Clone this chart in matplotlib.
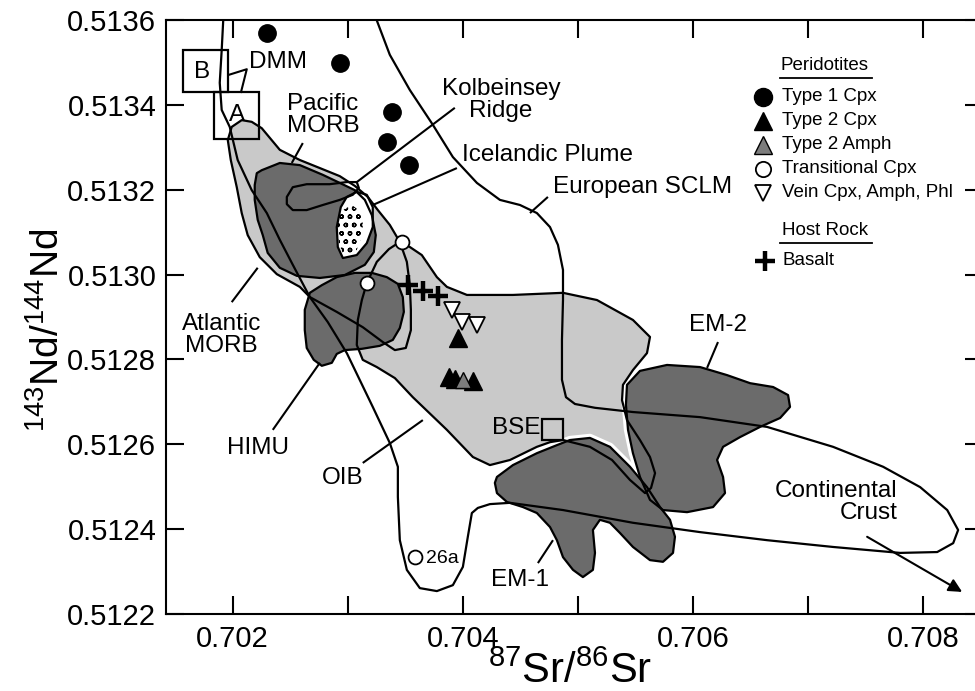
import matplotlib
matplotlib.use("Agg")
import matplotlib.pyplot as plt
from matplotlib.patches import Polygon, Rectangle
from matplotlib.ticker import MultipleLocator, FormatStrFormatter
from matplotlib import font_manager

# ---------------- field outlines (87Sr/86Sr, 143Nd/144Nd) ----------------
# European SCLM envelope (runs off the top of the plot)
sclm_sr = [0.703217, 0.703365, 0.703539, 0.703739, 0.703913, 0.704122, 0.704322, 0.704496,
           0.704643, 0.704757, 0.704826, 0.704870, 0.704870, 0.704861, 0.704861, 0.704896,
           0.704974, 0.705148, 0.705478, 0.706061, 0.706643, 0.707217, 0.707652, 0.707974,
           0.708209, 0.708304, 0.708261, 0.708122, 0.707800, 0.707217, 0.706643, 0.706061,
           0.705478, 0.704870, 0.704409, 0.704235, 0.704130, 0.704078, 0.704043, 0.704000,
           0.703913, 0.703774, 0.703626, 0.703513, 0.703452, 0.703435, 0.703435, 0.703365,
           0.703217, 0.702991, 0.702826, 0.702670, 0.702522, 0.702409, 0.702296, 0.702165,
           0.702043, 0.701974, 0.701904, 0.701887, 0.701904, 0.701922]
sclm_nd = [0.513624, 0.513518, 0.513435, 0.513353, 0.513277, 0.513216, 0.513176, 0.513164,
           0.513145, 0.513112, 0.513070, 0.513011, 0.512940, 0.512846, 0.512752, 0.512711,
           0.512695, 0.512686, 0.512676, 0.512664, 0.512641, 0.512594, 0.512547, 0.512499,
           0.512445, 0.512398, 0.512367, 0.512346, 0.512344, 0.512358, 0.512374, 0.512393,
           0.512415, 0.512445, 0.512462, 0.512459, 0.512450, 0.512438, 0.512382, 0.512311,
           0.512268, 0.512254, 0.512261, 0.512304, 0.512374, 0.512476, 0.512547, 0.512603,
           0.512688, 0.512815, 0.512888, 0.512947, 0.513023, 0.513082, 0.513145, 0.513199,
           0.513270, 0.513348, 0.513388, 0.513452, 0.513529, 0.513624]

atlantic_sr = [0.702078, 0.702165, 0.702252, 0.702409, 0.702583, 0.702757, 0.702930, 0.703061,
               0.703174, 0.703261, 0.703365, 0.703452, 0.703513, 0.703539, 0.703548, 0.703548,
               0.703504, 0.703409, 0.703304, 0.703130, 0.702904, 0.702670, 0.702583, 0.702383,
               0.702235, 0.702130, 0.702078, 0.702035, 0.701983, 0.701957, 0.701991]
atlantic_nd = [0.513364, 0.513360, 0.513345, 0.513294, 0.513270, 0.513251, 0.513232, 0.513209,
               0.513183, 0.513152, 0.513117, 0.513077, 0.513030, 0.512975, 0.512917, 0.512869,
               0.512827, 0.512822, 0.512841, 0.512876, 0.512912, 0.512947, 0.512971, 0.513001,
               0.513041, 0.513093, 0.513145, 0.513206, 0.513270, 0.513317, 0.513348]

oib_sr = [0.703452, 0.703539, 0.703643, 0.703774, 0.703861, 0.704035, 0.704435, 0.704870,
          0.705165, 0.705478, 0.705626, 0.705600, 0.705478, 0.705391, 0.705383, 0.705426,
          0.705539, 0.705626, 0.705670, 0.705635, 0.705583, 0.705452, 0.705296, 0.705104,
          0.704870, 0.704757, 0.704643, 0.704409, 0.704235, 0.704087, 0.703861, 0.703565,
          0.703409, 0.703252, 0.703130, 0.703078, 0.703087, 0.703122, 0.703165, 0.703252,
          0.703357]
oib_nd = [0.513077, 0.513065, 0.513046, 0.512994, 0.512971, 0.512952, 0.512952, 0.512957,
          0.512940, 0.512893, 0.512853, 0.512815, 0.512775, 0.512740, 0.512704, 0.512657,
          0.512610, 0.512570, 0.512532, 0.512497, 0.512485, 0.512516, 0.512563, 0.512594,
          0.512610, 0.512605, 0.512594, 0.512563, 0.512551, 0.512570, 0.512634, 0.512711,
          0.512756, 0.512782, 0.512799, 0.512834, 0.512893, 0.512940, 0.512980, 0.513030,
          0.513060]

pacific_sr = [0.702209, 0.702252, 0.702409, 0.702583, 0.702783, 0.702930, 0.703061, 0.703148,
              0.703209, 0.703243, 0.703226, 0.703148, 0.702974, 0.702757, 0.702557, 0.702409,
              0.702304, 0.702261, 0.702217, 0.702191, 0.702191]
pacific_nd = [0.513239, 0.513246, 0.513263, 0.513258, 0.513235, 0.513216, 0.513199, 0.513176,
              0.513140, 0.513093, 0.513053, 0.513023, 0.512999, 0.512992, 0.512997, 0.513016,
              0.513051, 0.513093, 0.513129, 0.513176, 0.513211]

kolbeinsey_sr = [0.702470, 0.702522, 0.702643, 0.702843, 0.702991, 0.703078, 0.703096,
                 0.703043, 0.702930, 0.702783, 0.702643, 0.702522, 0.702470]
kolbeinsey_nd = [0.513183, 0.513206, 0.513213, 0.513213, 0.513218, 0.513218, 0.513204,
                 0.513188, 0.513176, 0.513164, 0.513152, 0.513152, 0.513166]

iceland_sr = [0.702991, 0.703078, 0.703165, 0.703217, 0.703217, 0.703165, 0.703078,
              0.702957, 0.702913, 0.702904, 0.702939]
iceland_nd = [0.513183, 0.513195, 0.513188, 0.513159, 0.513112, 0.513074, 0.513046,
              0.513039, 0.513065, 0.513112, 0.513159]
iceland_core_sr = [0.702922, 0.703035, 0.703130, 0.703130, 0.703078, 0.702965, 0.702922, 0.702913]
iceland_core_nd = [0.513147, 0.513164, 0.513145, 0.513098, 0.513058, 0.513044, 0.513074, 0.513114]

himu_sr = [0.702670, 0.702774, 0.702904, 0.703061, 0.703209, 0.703339, 0.703435, 0.703478,
           0.703487, 0.703452, 0.703391, 0.703278, 0.703122, 0.702974, 0.702904, 0.702861,
           0.702774, 0.702704, 0.702643, 0.702626, 0.702626]
himu_nd = [0.512957, 0.512975, 0.512994, 0.513004, 0.513004, 0.512994, 0.512978, 0.512947,
           0.512912, 0.512874, 0.512846, 0.512832, 0.512825, 0.512822, 0.512813, 0.512792,
           0.512785, 0.512799, 0.512827, 0.512869, 0.512917]

em1_sr = [0.704296, 0.704435, 0.704643, 0.704817, 0.704930, 0.705104, 0.705278, 0.705452,
          0.705600, 0.705713, 0.705800, 0.705843, 0.705826, 0.705739, 0.705626, 0.705478,
          0.705365, 0.705278, 0.705191, 0.705130, 0.705148, 0.705130, 0.705043, 0.704957,
          0.704870, 0.704817, 0.704757, 0.704643, 0.704522, 0.704383, 0.704296, 0.704278]
em1_nd = [0.512523, 0.512551, 0.512579, 0.512598, 0.512610, 0.512615, 0.512594, 0.512547,
          0.512499, 0.512452, 0.512422, 0.512382, 0.512344, 0.512323, 0.512327, 0.512358,
          0.512391, 0.512415, 0.512422, 0.512398, 0.512344, 0.512304, 0.512287, 0.512304,
          0.512334, 0.512374, 0.512405, 0.512438, 0.512452, 0.512464, 0.512485, 0.512509]

em2_sr = [0.705426, 0.705539, 0.705774, 0.706061, 0.706296, 0.706496, 0.706696, 0.706826,
          0.706843, 0.706757, 0.706583, 0.706409, 0.706261, 0.706209, 0.706261, 0.706278,
          0.706174, 0.705948, 0.705739, 0.705626, 0.705539, 0.705478, 0.705435, 0.705417]
em2_nd = [0.512740, 0.512773, 0.512787, 0.512782, 0.512763, 0.512744, 0.512735, 0.512716,
          0.512688, 0.512662, 0.512641, 0.512617, 0.512594, 0.512563, 0.512523, 0.512485,
          0.512452, 0.512440, 0.512445, 0.512469, 0.512523, 0.512579, 0.512634, 0.512693]

# ---------------- samples ----------------
type1_cpx_sr = [0.702296, 0.702930, 0.703383, 0.703339, 0.703530]
type1_cpx_nd = [0.513569, 0.513499, 0.513383, 0.513312, 0.513258]
type2_cpx_sr = [0.703957, 0.703878, 0.703930, 0.704087]
type2_cpx_nd = [0.512851, 0.512759, 0.512754, 0.512749]
type2_amph_sr = [0.704000]
type2_amph_nd = [0.512752]
trans_cpx_sr = [0.703470, 0.703165, 0.703583]
trans_cpx_nd = [0.513077, 0.512980, 0.512334]
vein_sr = [0.703904, 0.703991, 0.704122]
vein_nd = [0.512917, 0.512888, 0.512881]
basalt_sr = [0.703522, 0.703652, 0.703783]
basalt_nd = [0.512975, 0.512961, 0.512950]

# mantle end-member boxes: (sr_min, sr_max, nd_min, nd_max)
dmm_b = (0.70157, 0.70196, 0.51343, 0.51353)
dmm_a = (0.70184, 0.70223, 0.51332, 0.51343)
bse = (0.70469, 0.70487, 0.51261, 0.51266)

LIGHT = "#c9c9c9"
DARK = "#6b6b6b"

names = {f.name for f in font_manager.fontManager.ttflist}
narrow = "Liberation Sans Narrow" if "Liberation Sans Narrow" in names else "Liberation Sans"

plt.rcParams["font.family"] = ["Liberation Sans", "DejaVu Sans"]
plt.rcParams["mathtext.fontset"] = "custom"
plt.rcParams["mathtext.rm"] = narrow
plt.rcParams["mathtext.it"] = narrow
plt.rcParams["mathtext.bf"] = narrow
plt.rcParams["hatch.linewidth"] = 1.0

fig = plt.figure(figsize=(9.75, 6.91), dpi=100)
ax = fig.add_axes([166 / 975, 77 / 691, 817 / 975, 594 / 691])
ax.set_xlim(0.70142, 0.70852)
ax.set_ylim(0.5122, 0.5136)


def fill(sr, nd, color, z):
    ax.add_patch(Polygon(list(zip(sr, nd)), closed=True, facecolor=color,
                         edgecolor="none", zorder=z))


def outline(sr, nd, z=3, color="black", lw=1.6):
    ax.add_patch(Polygon(list(zip(sr, nd)), closed=True, fill=False, edgecolor=color,
                         lw=lw, joinstyle="round", zorder=z))


# fills, back to front
fill(atlantic_sr, atlantic_nd, LIGHT, 1)
fill(oib_sr, oib_nd, LIGHT, 1)
fill(kolbeinsey_sr, kolbeinsey_nd, "white", 1.2)
outline(em1_sr, em1_nd, z=1.5, color="white", lw=6)
outline(em2_sr, em2_nd, z=1.5, color="white", lw=6)
for sr, nd in [(pacific_sr, pacific_nd), (himu_sr, himu_nd), (em1_sr, em1_nd), (em2_sr, em2_nd)]:
    fill(sr, nd, DARK, 2)
fill(iceland_sr, iceland_nd, "white", 2.5)
ax.add_patch(Polygon(list(zip(iceland_core_sr, iceland_core_nd)), closed=True, fill=False,
                     hatch="oo", edgecolor="black", lw=0, zorder=2.6))

# field boundaries
for sr, nd in [(sclm_sr, sclm_nd), (atlantic_sr, atlantic_nd), (oib_sr, oib_nd),
               (pacific_sr, pacific_nd), (kolbeinsey_sr, kolbeinsey_nd),
               (iceland_sr, iceland_nd), (himu_sr, himu_nd), (em1_sr, em1_nd),
               (em2_sr, em2_nd)]:
    outline(sr, nd)

for x0, x1, y0, y1 in (dmm_b, dmm_a, bse):
    ax.add_patch(Rectangle((x0, y0), x1 - x0, y1 - y0, fill=False, edgecolor="black",
                           lw=1.6, zorder=4))

# labels and leader lines
lab = dict(fontsize=17.5, color="black", zorder=6)
ax.text(0.702391, 0.513501, "DMM", ha="center", va="center", **lab)
ax.text(0.701730, 0.513477, "B", ha="center", va="center", **lab)
ax.text(0.702035, 0.513376, "A", ha="center", va="center", **lab)
ax.text(0.702783, 0.513376, "Pacific\nMORB", ha="center", va="center", linespacing=1.0, **lab)
ax.text(0.704330, 0.513411, "Kolbeinsey\nRidge", ha="center", va="center", linespacing=1.0, **lab)
ax.text(0.703991, 0.513282, "Icelandic Plume", ha="left", va="center", **lab)
ax.text(0.704783, 0.513206, "European SCLM", ha="left", va="center", **lab)
ax.text(0.701904, 0.512858, "Atlantic\nMORB", ha="center", va="center", linespacing=1.0, **lab)
ax.text(0.702217, 0.512591, "HIMU", ha="center", va="center", **lab)
ax.text(0.702957, 0.512521, "OIB", ha="center", va="center", **lab)
ax.text(0.704670, 0.512638, "BSE", ha="right", va="center", **lab)
ax.text(0.704496, 0.512280, "EM-1", ha="center", va="center", **lab)
ax.text(0.706217, 0.512881, "EM-2", ha="center", va="center", **lab)
ax.text(0.707774, 0.512464, "Continental\nCrust", ha="right", va="center",
        multialignment="right", linespacing=1.0, **lab)
ax.text(0.703678, 0.512330, "26a", ha="left", va="center", fontsize=14, zorder=6)

leaders = [
    ([0.701957, 0.702122, 0.702070], [0.513470, 0.513484, 0.513428]),
    ([0.702609, 0.702513], [0.513310, 0.513263]),
    ([0.703930, 0.703078], [0.513393, 0.513218]),
    ([0.703948, 0.703217], [0.513251, 0.513164]),
    ([0.704739, 0.704583], [0.513183, 0.513145]),
    ([0.701991, 0.702217], [0.512935, 0.513016]),
    ([0.702348, 0.702757], [0.512634, 0.512792]),
    ([0.703130, 0.703652], [0.512556, 0.512657]),
    ([0.704652, 0.704783], [0.512320, 0.512374]),
    ([0.706217, 0.706122], [0.512841, 0.512780]),
]
for sr, nd in leaders:
    ax.plot(sr, nd, color="black", lw=1.5, zorder=4, solid_capstyle="butt")

ax.annotate("", xy=(0.708339, 0.512252), xytext=(0.707513, 0.512382),
            arrowprops=dict(arrowstyle="-|>", color="black", lw=1.5,
                            mutation_scale=20, shrinkA=0, shrinkB=0), zorder=4)

# samples
ax.plot(type1_cpx_sr, type1_cpx_nd, "o", ls="none", color="black", ms=12.5, zorder=7)
ax.plot(trans_cpx_sr, trans_cpx_nd, "o", ls="none", mfc="white", mec="black", mew=1.3,
        ms=10, zorder=7)
ax.plot(basalt_sr, basalt_nd, "+", ls="none", color="black", ms=14, mew=3.2, zorder=7)
ax.plot(vein_sr, vein_nd, "v", ls="none", mfc="white", mec="black", mew=1.3, ms=12, zorder=7)
ax.plot(type2_cpx_sr, type2_cpx_nd, "^", ls="none", color="black", ms=13, zorder=7)
ax.plot(type2_amph_sr, type2_amph_nd, "^", ls="none", mfc="#7d7d7d", mec="black", mew=1.0,
        ms=12, zorder=7)

# key
T = ax.transAxes
key_fs = 13.5
ax.text(0.8066, 0.9242, "Peridotites", transform=T, ha="center", va="center", fontsize=key_fs)
ax.plot([0.7515, 0.8641], [0.9024, 0.9024], transform=T, color="black", lw=1.3, clip_on=False)
rows = [
    ("Type 1 Cpx", dict(marker="o", mfc="black", mec="black", ms=13)),
    ("Type 2 Cpx", dict(marker="^", mfc="black", mec="black", ms=13)),
    ("Type 2 Amph", dict(marker="^", mfc="#7d7d7d", mec="black", mew=1.0, ms=13)),
    ("Transitional Cpx", dict(marker="o", mfc="white", mec="black", mew=1.3, ms=11)),
    ("Vein Cpx, Amph, Phl", dict(marker="v", mfc="white", mec="black", mew=1.3, ms=12)),
]
for (txt, style), yy in zip(rows, [0.8704, 0.8300, 0.7896, 0.7492, 0.7088]):
    ax.plot([0.7307], [yy], transform=T, ls="none", clip_on=False, zorder=7, **style)
    ax.text(0.7540, yy, txt, transform=T, ha="left", va="center", fontsize=key_fs)
ax.text(0.8066, 0.6448, "Host Rock", transform=T, ha="center", va="center", fontsize=key_fs)
ax.plot([0.7515, 0.8641], [0.6246, 0.6246], transform=T, color="black", lw=1.3, clip_on=False)
ax.plot([0.7332], [0.5943], transform=T, marker="+", ls="none", color="black", ms=15, mew=3.2,
        clip_on=False)
ax.text(0.7552, 0.5943, "Basalt", transform=T, ha="left", va="center", fontsize=key_fs)

# axes
ax.xaxis.set_major_locator(MultipleLocator(0.002))
ax.xaxis.set_minor_locator(MultipleLocator(0.001))
ax.xaxis.set_major_formatter(FormatStrFormatter("%.3f"))
ax.yaxis.set_major_locator(MultipleLocator(0.0002))
ax.yaxis.set_major_formatter(FormatStrFormatter("%.4f"))
ax.tick_params(which="both", direction="in", length=13, width=1.5, top=True, right=True,
               color="black")
ax.tick_params(axis="x", labelsize=21, pad=8, labelfontfamily=narrow)
ax.tick_params(axis="y", labelsize=21, pad=7)
for sp in ax.spines.values():
    sp.set_linewidth(1.5)

ax.set_xlabel(r"$^{87}$Sr/$^{86}$Sr", fontsize=30, family=narrow)
ax.xaxis.label.set_va("center")
ax.xaxis.set_label_coords(0.4945, -0.0976)
ax.set_ylabel(r"$^{143}$Nd/$^{144}$Nd", fontsize=28, family=narrow)
ax.yaxis.label.set_va("center")
ax.yaxis.set_label_coords(-0.144, 0.478)

fig.savefig("out.png", dpi=100)
